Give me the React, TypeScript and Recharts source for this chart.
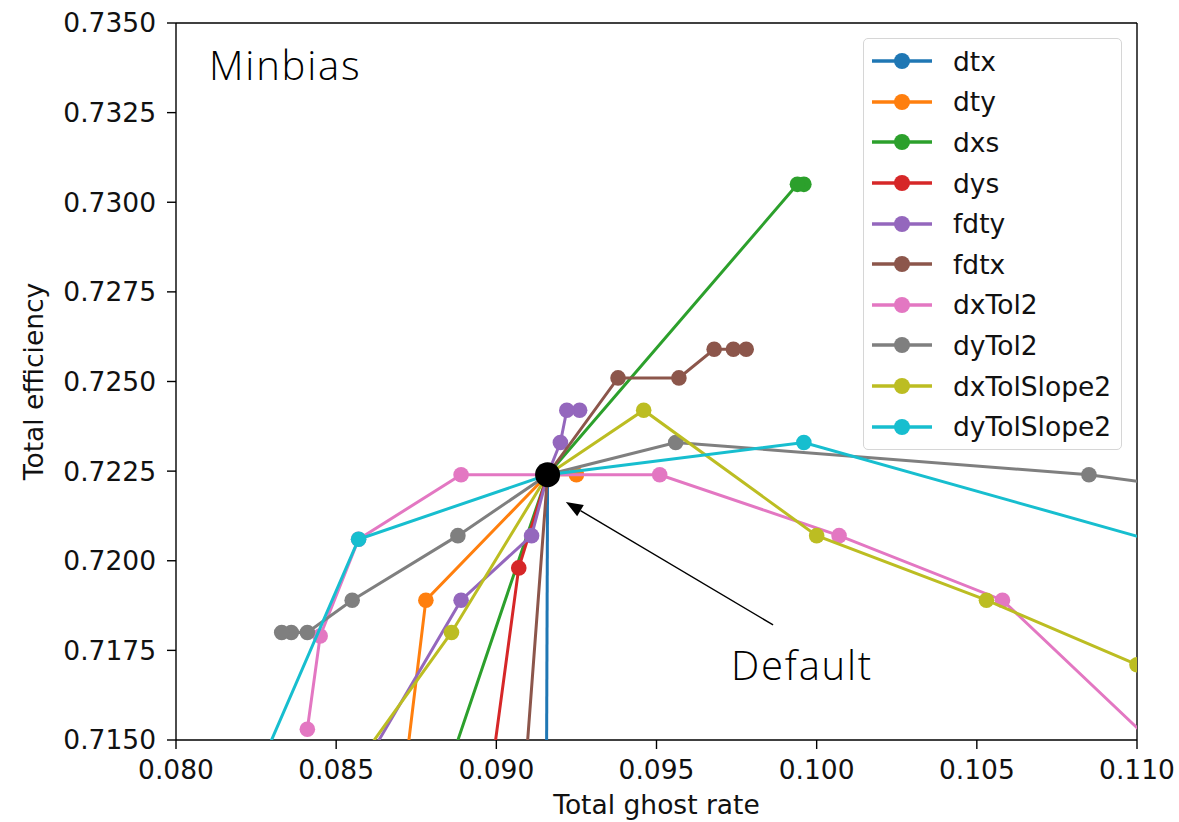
import React from 'react';
import { ScatterChart, Scatter, XAxis, YAxis, ReferenceLine, Legend } from 'recharts';

// axis ticks
const ghostTicks = [0.08, 0.085, 0.09, 0.095, 0.1, 0.105, 0.11];
const effTicks = [0.715, 0.7175, 0.72, 0.7225, 0.725, 0.7275, 0.73, 0.7325, 0.735];

// series values (ghost rate, efficiency)
const dtxGhost = [0.0916, 0.09155];
const dtxEff = [0.7224, 0.71];
const dtyGhost = [0.0925, 0.0916, 0.0878, 0.087];
const dtyEff = [0.7224, 0.7224, 0.7189, 0.713];
const dxsGhost = [0.0996, 0.0994, 0.0916, 0.0871];
const dxsEff = [0.7305, 0.7305, 0.7224, 0.7105];
const dysGhost = [0.0916, 0.0907, 0.0893];
const dysEff = [0.7224, 0.7198, 0.7105];
const fdtyGhost = [0.0926, 0.0922, 0.092, 0.0916, 0.0911, 0.0889, 0.0843];
const fdtyEff = [0.7242, 0.7242, 0.7233, 0.7224, 0.7207, 0.7189, 0.7119];
const fdtxGhost = [0.0978, 0.0974, 0.0968, 0.0957, 0.0938, 0.0916, 0.0906];
const fdtxEff = [0.7259, 0.7259, 0.7259, 0.7251, 0.7251, 0.7224, 0.7105];
const dxTol2Ghost = [0.1117, 0.1058, 0.1007, 0.0951, 0.0916, 0.0889, 0.0857, 0.0845, 0.0841];
const dxTol2Eff = [0.7139, 0.7189, 0.7207, 0.7224, 0.7224, 0.7224, 0.7206, 0.7179, 0.7153];
const dyTol2Ghost = [0.1135, 0.1085, 0.0956, 0.0916, 0.0888, 0.0855, 0.0841, 0.0836, 0.0833];
const dyTol2Eff = [0.7218, 0.7224, 0.7233, 0.7224, 0.7207, 0.7189, 0.718, 0.718, 0.718];
const dxTolSlope2Ghost = [0.11, 0.1053, 0.1, 0.0946, 0.0916, 0.0886, 0.0837];
const dxTolSlope2Eff = [0.7171, 0.7189, 0.7207, 0.7242, 0.7224, 0.718, 0.7119];
const dyTolSlope2Ghost = [0.1151, 0.0996, 0.0916, 0.0857, 0.0808];
const dyTolSlope2Eff = [0.7194, 0.7233, 0.7224, 0.7206, 0.7105];

const defaultGhost = [0.0916];
const defaultEff = [0.7224];

// annotation arrow: text end -> default point
const arrowTail = { x: 0.09864, y: 0.71821 };
const arrowTip = { x: 0.09217, y: 0.72164 };

const toPoints = (xs: number[], ys: number[]) => xs.map((x, i) => ({ x, y: ys[i] }));

const series = [
  { name: 'dtx', color: '#1f77b4', data: toPoints(dtxGhost, dtxEff) },
  { name: 'dty', color: '#ff7f0e', data: toPoints(dtyGhost, dtyEff) },
  { name: 'dxs', color: '#2ca02c', data: toPoints(dxsGhost, dxsEff) },
  { name: 'dys', color: '#d62728', data: toPoints(dysGhost, dysEff) },
  { name: 'fdty', color: '#9467bd', data: toPoints(fdtyGhost, fdtyEff) },
  { name: 'fdtx', color: '#8c564b', data: toPoints(fdtxGhost, fdtxEff) },
  { name: 'dxTol2', color: '#e377c2', data: toPoints(dxTol2Ghost, dxTol2Eff) },
  { name: 'dyTol2', color: '#7f7f7f', data: toPoints(dyTol2Ghost, dyTol2Eff) },
  { name: 'dxTolSlope2', color: '#bcbd22', data: toPoints(dxTolSlope2Ghost, dxTolSlope2Eff) },
  { name: 'dyTolSlope2', color: '#17becf', data: toPoints(dyTolSlope2Ghost, dyTolSlope2Eff) },
];

const FONT = '"DejaVu Sans", sans-serif';
const tickStyle = { fontSize: 26.5, fill: '#111', fontFamily: FONT };

const dot = (color: string, r: number) => (p: any) => (
  <circle cx={p.cx} cy={p.cy} r={r} fill={color} />
);

const Arrow = (p: any) => {
  const { x1, y1, x2, y2 } = p;
  const a = Math.atan2(y2 - y1, x2 - x1);
  const len = 17;
  const w = 6.5;
  const bx = x2 - len * Math.cos(a);
  const by = y2 - len * Math.sin(a);
  const px = -Math.sin(a) * w;
  const py = Math.cos(a) * w;
  return (
    <g>
      <line x1={x1} y1={y1} x2={bx} y2={by} stroke="#000" strokeWidth={1.4} />
      <polygon points={`${x2},${y2} ${bx + px},${by + py} ${bx - px},${by - py}`} fill="#000" />
    </g>
  );
};

const renderLegend = () => (
  <div
    style={{
      border: '1.5px solid #d6d6d6',
      borderRadius: 5,
      background: 'rgba(255,255,255,0.8)',
      padding: '2px 10px 2px 8px',
      fontFamily: FONT,
      fontSize: 26.5,
      color: '#111',
    }}
  >
    {series.map(s => (
      <div key={s.name} style={{ display: 'flex', alignItems: 'center', height: 40.6 }}>
        <svg width={60} height={20}>
          <line x1={0} y1={10} x2={60} y2={10} stroke={s.color} strokeWidth={3.5} />
          <circle cx={30} cy={10} r={8} fill={s.color} />
        </svg>
        <span style={{ marginLeft: 21 }}>{s.name}</span>
      </div>
    ))}
  </div>
);

const bigText: React.CSSProperties = {
  position: 'absolute',
  fontFamily: '"Open Sans", sans-serif',
  fontWeight: 300,
  fontSize: 40,
  lineHeight: '40px',
  letterSpacing: 1.8,
  color: '#000',
};

export default function App() {
  return (
    <div style={{ position: 'absolute', left: 0, top: 0, width: 1179, height: 822, background: '#fff' }}>
      <ScatterChart width={1179} height={822} margin={{ top: 23, right: 42, left: 0, bottom: 0 }}>
        <XAxis
          type="number"
          dataKey="x"
          domain={[0.08, 0.11]}
          ticks={ghostTicks}
          allowDataOverflow
          tickFormatter={(v: number) => v.toFixed(3)}
          tick={tickStyle}
          tickSize={9}
          tickMargin={11}
          height={82}
          axisLine={{ stroke: '#000', strokeWidth: 1.4 }}
          tickLine={{ stroke: '#000', strokeWidth: 1.4 }}
          label={{ value: 'Total ghost rate', position: 'insideBottom', offset: 8, style: { ...tickStyle } }}
        />
        <YAxis
          type="number"
          dataKey="y"
          domain={[0.715, 0.735]}
          ticks={effTicks}
          allowDataOverflow
          tickFormatter={(v: number) => v.toFixed(4)}
          tick={tickStyle}
          tickSize={9}
          tickMargin={11}
          width={176}
          axisLine={{ stroke: '#000', strokeWidth: 1.4 }}
          tickLine={{ stroke: '#000', strokeWidth: 1.4 }}
          label={{
            value: 'Total efficiency',
            angle: -90,
            position: 'insideLeft',
            offset: 34,
            style: { ...tickStyle, textAnchor: 'middle' },
          }}
        />
        <ReferenceLine x={0.11} stroke="#000" strokeWidth={1.4} />
        <ReferenceLine y={0.735} stroke="#000" strokeWidth={1.4} />
        {series.map(s => (
          <Scatter
            key={s.name}
            name={s.name}
            data={s.data}
            fill={s.color}
            line={{ stroke: s.color, strokeWidth: 3 }}
            lineType="joint"
            shape={dot(s.color, 7.8)}
            isAnimationActive={false}
          />
        ))}
        <Scatter
          name="Default"
          data={toPoints(defaultGhost, defaultEff)}
          fill="#000"
          shape={dot('#000', 12.5)}
          legendType="none"
          isAnimationActive={false}
        />
        <ReferenceLine segment={[arrowTail, arrowTip]} shape={Arrow} />
        <Legend
          layout="vertical"
          align="center"
          verticalAlign="middle"
          content={renderLegend}
          wrapperStyle={{ top: 38, left: 863, width: 'auto', right: 'auto', bottom: 'auto' }}
        />
      </ScatterChart>
      <div style={{ ...bigText, left: 209, top: 45 }}>Minbias</div>
      <div style={{ ...bigText, left: 731, top: 645 }}>Default</div>
    </div>
  );
}
